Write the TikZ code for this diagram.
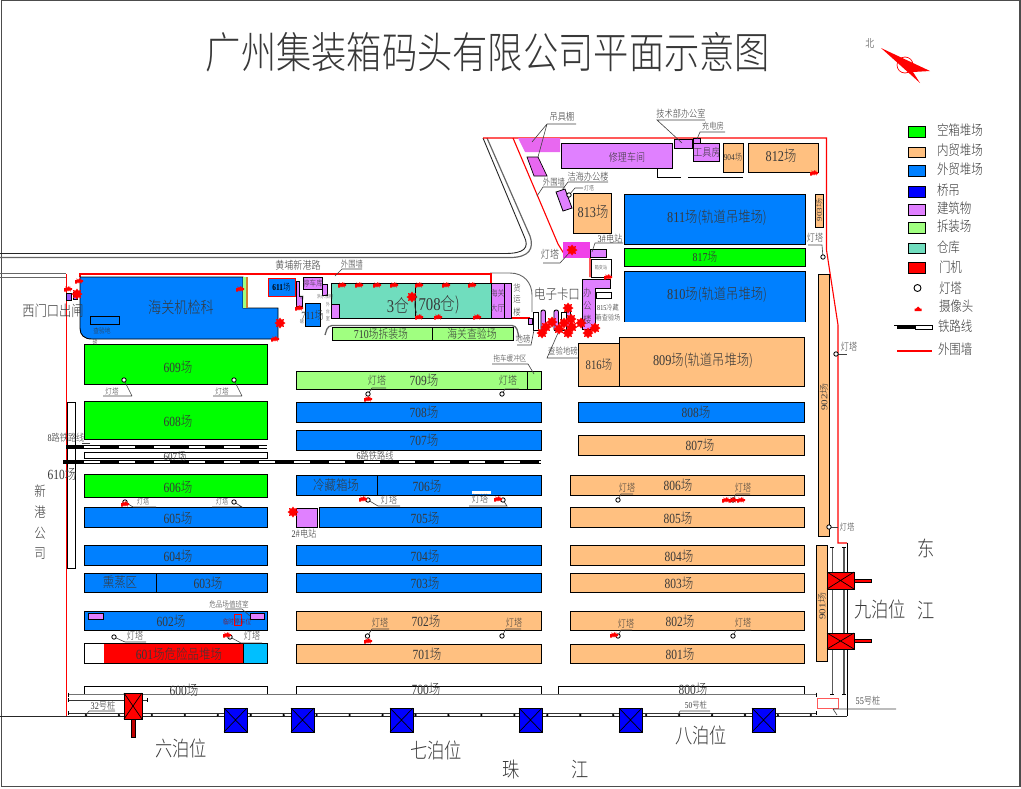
\documentclass[tikz,border=0pt]{standalone}
\usepackage{graphicx}
\usepackage{fontspec}
\setmainfont{Noto Sans CJK SC Light}
\newfontfamily\serifnum{Liberation Serif}
\usetikzlibrary{shapes.geometric}
\definecolor{cOrange}{HTML}{FFC080}
\definecolor{cBlue}{HTML}{0080FF}
\definecolor{cGreen}{HTML}{00FF00}
\definecolor{cPurple}{HTML}{E080FF}
\definecolor{cLight}{HTML}{A0FF80}
\definecolor{cTeal}{HTML}{70DDBE}
\definecolor{cMag}{HTML}{E868F0}
\definecolor{cSky}{HTML}{00BFFF}
\definecolor{cPink}{HTML}{F040E8}
\tikzset{
  yard/.style={draw=black,line width=.9pt,inner sep=0,outer sep=0},
  lbl/.style={inner sep=0,outer sep=0,text=black!78},
  thinl/.style={line width=.6pt,draw=black!75},
  wall/.style={draw=red,line width=1.1pt},
  road/.style={draw=black!85,line width=.9pt},
  rail/.style={draw=black!80,line width=.9pt}
}
\newcommand\N[1]{{\serifnum #1}}
\newcommand\Yd[6]{\pgfmathsetmacro\yw{#4-#2}\pgfmathsetmacro\yh{#5-#3}\pgfmathsetmacro\ycx{(#2+#4)/2}\pgfmathsetmacro\ycy{(#3+#5)/2}\node[yard,fill=#6,minimum width=\yw pt,minimum height=\yh pt] (#1) at (\ycx,\ycy) {};}
\newcommand\T[5]{\node[lbl] (#1) at (#2,#3) {\fontsize{#4}{#4}\selectfont\scalebox{.82}[1]{#5}};}
\newcommand\TL[5]{\node[lbl,anchor=west] (#1) at (#2,#3) {\fontsize{#4}{#4}\selectfont\scalebox{.82}[1]{#5}};}
\newcommand\TR[5]{\node[lbl,rotate=90] (#1) at (#2,#3) {\fontsize{#4}{#4}\selectfont\scalebox{1}[.82]{#5}};}
\newcommand\Xb[6]{\Yd{#1}{#2}{#3}{#4}{#5}{#6}\draw[line width=.7pt] (#1.north west)--(#1.south east) (#1.north east)--(#1.south west);}
\newcommand\Cam[2]{\fill[red,shift={(#1,#2)}] (-4,2.5)--(-4,-1)--(-2.5,-1)--(-2.5,-3)--(-1,-1)--(.5,-3)--(1,-1)--(2,-3)--(2.5,-1)--(4,-1)--(4,1)--(2.5,1)--(2.5,2.5)--(1,1)--(0,2.5)--(-1,1)--(-2,2.5)--cycle;}
\newcommand\CamB[2]{\fill[red,shift={(#1,#2)}] (0,-5.5)--(1.4,-3.4)--(3.9,-3.9)--(3.4,-1.4)--(5.5,0)--(3.4,1.4)--(3.9,3.9)--(1.4,3.4)--(0,5.5)--(-1.4,3.4)--(-3.9,3.9)--(-3.4,1.4)--(-5.5,0)--(-3.4,-1.4)--(-3.9,-3.9)--(-1.4,-3.4)--cycle;}
\newcommand\Lamp[2]{\draw[line width=.8pt,fill=white] (#1,#2) circle (2.2pt);}
\newcommand\Rly[3]{\draw[line width=4.4pt,black] (#1,#3)--(#2,#3);\draw[line width=2.4pt,white,dash pattern=on 16pt off 19pt] (84,#3)--(#2,#3);}
\begin{document}
\begin{tikzpicture}[x=1pt,y=-1pt]
\useasboundingbox (0,0) rectangle (1021,788);
\draw[black!70,line width=1.2pt] (1.2,.5) rectangle (1020,786.5);
% title
\T{title}{488}{52}{43}{广州集装箱码头有限公司平面示意图}
% north arrow
\T{north}{870}{43}{11}{北}
\draw[red,line width=.7pt] (905,65) circle (8pt);
\fill[red] (881,48)--(930,71)--(913,72)--(920,83)--cycle;
% roads
\draw[road] (0,253.5)--(505,253.5) .. controls (524,253.5) and (530,248) .. (524,236)--(483,138);
\draw[road,draw=black!60,line width=1.2pt] (0,257.5)--(510,257.5) .. controls (530,257.5) and (534,248) .. (530,236)--(487,138);
\draw[road,draw=black!60] (0,273)--(66,273) (0,277)--(66,277);
\draw[road,draw=black!60] (490,273)--(510,273) .. controls (524,273) and (532,283) .. (532,295)--(532,312);
\draw[road,draw=black!60,line width=1.3pt,rounded corners=4pt] (325,335)--(328,325.5)--(516,325.5)--(519,337);
% walls
\draw[wall] (66.5,274)--(66.5,716);
\draw[wall] (80,277)--(80,274)--(491,274)--(491,283);
\draw[wall] (505,318)--(530,318);
\draw[wall] (483,138)--(826.5,138)--(826.5,250)--(838,325)--(838,543)--(847,543);
\draw[black,line width=1pt] (847,543)--(847,716);
\draw[wall] (513,138)--(558,244)--(566,257)--(590,257)--(590,277);
% left column
\Yd{y610}{67}{402}{75}{568}{white}
\draw[yard,fill=cBlue] (80,277)--(243,277)--(243,308)--(278,308)--(278,339)--(92,339) .. controls (84,339) and (80,335) .. (80,328)--cycle;
\fill[cLight] (243,277) rectangle (246,308);
\fill[brown!70!orange] (246,277) rectangle (248,308);
\Yd{ckbox}{90}{316}{119}{324}{cBlue}
\Yd{y609}{84}{344}{267}{384}{cGreen}
\Yd{y608}{84}{401}{267}{439}{cGreen}
\Yd{y607}{84}{452}{267}{458}{white}
\Yd{y606}{84}{474}{267}{497}{cGreen}
\Yd{y605}{84}{507}{267}{527}{cBlue}
\Yd{y604}{84}{545}{267}{565}{cBlue}
\Yd{y603}{84}{573}{267}{592}{cBlue}
\draw[line width=.9pt] (156,573)--(156,592);
\Yd{y602}{84}{611}{267}{630}{cBlue}
\Yd{p602a}{88}{613}{103}{619}{cPurple}
\Yd{p602b}{250}{613}{264}{619}{cPurple}
\draw[red,line width=.8pt] (234,614) rectangle (241,625);
\Yd{y601}{84}{643}{267}{663}{white}
\fill[red] (104,643.5) rectangle (243,662.5);
\fill[cSky] (243,643.5) rectangle (266.5,662.5);
\draw[line width=.9pt] (243,643)--(243,663);
\Yd{y600}{84}{686}{267}{694}{white}
% middle column
\Yd{y709}{296}{371}{541}{389}{cLight}
\draw[line width=.9pt] (527,371)--(527,389);
\Yd{y708}{296}{402}{541}{422}{cBlue}
\Yd{y707}{296}{430}{541}{450}{cBlue}
\Yd{y706}{296}{475}{541}{495}{cBlue}
\draw[line width=.9pt] (377,475)--(377,495);
\fill[white] (472,491) rectangle (491,493.5);
\Yd{p2}{296}{508}{317}{527}{cPurple}
\Yd{y705}{319}{507}{541}{527}{cBlue}
\Yd{y704}{296}{545}{541}{565}{cBlue}
\Yd{y703}{296}{573}{541}{592}{cBlue}
\Yd{y702}{296}{611}{541}{630}{cOrange}
\Yd{y701}{296}{644}{541}{663}{cOrange}
\Yd{y700}{296}{686}{541}{694}{white}
% right column
\Yd{y808}{578}{402}{804}{422}{cBlue}
\Yd{y807}{578}{435}{804}{455}{cOrange}
\Yd{y806}{570}{475}{804}{495}{cOrange}
\Yd{y805}{570}{507}{804}{527}{cOrange}
\Yd{y804}{570}{545}{804}{565}{cOrange}
\Yd{y803}{570}{573}{804}{592}{cOrange}
\Yd{y802}{570}{611}{804}{630}{cOrange}
\Yd{y801}{570}{644}{804}{663}{cOrange}
\Yd{y800}{558}{686}{804}{694}{white}
% north block
\Yd{y811}{624}{194}{805}{244}{cBlue}
\Yd{y817}{624}{248}{805}{266}{cGreen}
\fill[cBlue] (624,271) rectangle (805,322);
\draw[line width=.9pt] (805,322)--(805,271)--(624,271)--(624,322);
\Yd{y809}{619}{337}{804}{386}{cOrange}
\Yd{y816}{578}{343}{619}{386}{cOrange}
\Yd{y813}{573}{193}{611}{233}{cOrange}
\Yd{y812}{748}{143}{818}{172}{cOrange}
\Yd{y904}{723}{143}{743}{172}{cOrange}
\Yd{y903}{815.5}{194}{823}{227}{cOrange}
\Yd{y902}{818}{274}{829}{536}{cOrange}
\Yd{y901}{816}{545}{827}{661}{cOrange}
% buildings north
\fill[cMag] (518,138)--(560,138)--(560,152)--(525,152)--cycle;
\draw[fill=cMag,line width=.7pt] (527,157)--(538,157)--(547,176)--(534,176)--cycle;
\Yd{repair}{561}{143}{672}{168}{cPurple}
\Yd{tech}{674}{139}{692}{148}{cPurple}
\Yd{charge}{693}{138}{700}{143}{cPurple}
\Yd{tools}{693}{143}{719}{161}{cPurple}
\draw[line width=.8pt] (657,168)--(657,177)--(681,177) (688,177)--(743,177);
\draw[fill=cPurple,line width=.8pt] (556,192)--(565,189)--(572,208)--(563,211)--cycle;
\fill[cPink] (563,242) rectangle (590,258);
\Yd{e3}{590}{249}{606}{257}{cPurple}
\Yd{sub}{591}{259}{611}{277}{white}
\draw[fill=cPurple,line width=.8pt] (582,279)--(610,279)--(610,288)--(595,288)--(595,329)--(582,329)--cycle;
\Yd{wbox}{596}{292}{611}{298}{white}
% warehouse block
\Yd{wh}{331}{283}{491}{318}{cTeal}
\draw[line width=.9pt] (415,283)--(415,318);
\Yd{p331}{331}{304}{339}{318}{cPurple}
\Yd{hall}{491}{283}{511.5}{318}{cPurple}
\draw[line width=.9pt] (504,283)--(504,318);
\Yd{y710}{332}{327}{513}{340}{cLight}
\draw[line width=.9pt] (432,327)--(432,340);
\node[draw=red,fill=cBlue,line width=1pt,inner sep=0,minimum width=27pt,minimum height=18pt] (y611) at (281.5,287) {};
\draw[fill=cPurple,line width=.7pt] (296,281)--(299,281)--(299,296)--(302,296)--(302,306)--(296,306)--cycle;
\Yd{park}{303}{277}{322}{289}{cPurple}
\Yd{p322}{322}{284}{327}{295}{cPurple}
\Yd{y711}{305}{303}{320}{326}{cBlue}
% gate
\Yd{g0}{528}{318}{532}{324}{cPurple}
\Yd{g1}{533}{312}{538}{330}{white}
\foreach \i/\x in {a/541,b/554,c/566}{\node[yard,fill=cPurple,rounded corners=2pt,minimum width=4.5pt,minimum height=21pt] (gate\i) at (\x+2.2,320.5) {};}
\Yd{g2}{561}{312}{566}{330}{white}
% west gate
\Yd{wg1}{66}{293}{71}{300}{cPurple!70!blue}
\Yd{wg2}{73}{292}{77}{299}{cPurple!70!blue}
% quay rails
\draw[rail,draw=black!55,line width=1.2pt] (68,694.7)--(816,694.7);
\draw[rail] (68,700)--(147,700);
\draw[rail] (68,713)--(816,713);
\foreach \x/\a/\b in {68/692.5/697,68/698/702,68/711/715,816/692.5/697,816/711/715,147/698/702}{\draw[line width=.7pt] (\x,\a)--(\x,\b);}
\draw[black!85,line width=1.6pt] (0,716.5)--(847,716.5);
\foreach \n in {0,...,22}{\pgfmathsetmacro\px{86+32.95*\n}\fill[black] (\px,715) circle (1.3pt);}
\draw[rail,draw=black!65] (832,547)--(832,694);
\draw[rail,draw=black!65,line width=1.3pt] (844,547)--(844,694);
\foreach \x in {832,844}{\draw[line width=.9pt] (\x-2,547)--(\x+2,547) (\x-2,694)--(\x+2,694);}
% portal cranes
\Xb{pc1}{124}{693}{142}{719}{red}
\Yd{st1}{131}{719}{135}{737}{red!75!black}
\Yd{st2}{854}{579}{871}{582}{red}
\Xb{pc2}{827}{572}{854}{589}{red}
\Yd{st3}{854}{639}{871}{642.5}{red}
\Xb{pc3}{827}{633}{854}{649}{red}
% bridge cranes
\Xb{bc1}{224}{708}{247}{732}{blue}
\Xb{bc2}{291}{708}{314}{732}{blue}
\Xb{bc3}{390}{708}{413}{732}{blue}
\Xb{bc4}{519}{708}{542}{732}{blue}
\Xb{bc5}{619}{708}{642}{732}{blue}
\Xb{bc6}{752}{708}{775}{732}{blue}
\draw[red!65,line width=1pt] (817,698) rectangle (838,708);
% railways
\Rly{66}{267}{447}
\Rly{63}{541}{462}
% leaders
\draw[thinl] (132,396)--(124,380) (103,396)--(132,396);
\draw[thinl] (242,396)--(234,380) (213,396)--(242,396);
\draw[thinl] (133,507)--(125,502) (133,507)--(156,507);
\draw[thinl] (212,507)--(242,507)--(234,502);
\draw[thinl] (368,394)--(372,388)--(386,388);
\draw[thinl] (502,394)--(505,389)--(519,389);
\draw[thinl] (368,500)--(378,506)--(400,506);
\draw[thinl] (503,500)--(507,506)--(469,506);
\draw[thinl] (618,500)--(621,494)--(633,494);
\draw[thinl] (733,500)--(736,494)--(750,494);
\draw[thinl] (367.5,636)--(372,629)--(389,629);
\draw[thinl] (502,636)--(506,629)--(521,629);
\draw[thinl] (618,636)--(621,630)--(632,630);
\draw[thinl] (733,636)--(736,630)--(751,630);
\draw[thinl] (114,637)--(125,642)--(146,642);
\draw[thinl] (230,637)--(241,643)--(262,643);
\draw[thinl] (225,609)--(242,609)--(250,616);
\draw[thinl] (82,443)--(90,443);
\draw[thinl] (547,124)--(576,124) (547,124)--(532,142) (547,124)--(538,157);
\draw[thinl] (705,120)--(657,120)--(682,143);
\draw[thinl] (725,132)--(700,132)--(697,139);
\draw[thinl] (568,182)--(608,182) (568,182)--(562,190);
\draw[thinl] (565,187)--(543,187)--(537,196);
\draw[thinl] (569,195)--(575,188)--(583,188);
\draw[thinl] (623,243)--(595,243)--(592,252);
\draw[thinl] (808,245)--(822,245)--(823,257);
\draw[thinl] (543,263)--(560,263)--(570,252);
\draw[thinl] (362,269)--(342,269)--(335,276);
\draw[thinl] (492,364)--(528,364)--(534,374);
\draw[thinl] (517,345)--(531,345)--(534,330);
\draw[thinl] (578,358)--(547,358)--(558,333);
\draw[thinl] (89,711)--(115,711) (89,711)--(86,715);
\draw[thinl] (680,711)--(710,711) (680,711)--(678,715);
\draw[thinl] (833,709)--(896,709) (833,709)--(837,715);
\draw[thinl] (829,527)--(838,527) (836,354)--(847,354);
% lamps
\foreach \x/\y in {124/380,234/380,125/502,234/502,368/394,502/394,368/500,503/500,618/500,733/500,367.5/636,502/636,618/636,733/636,114/637,230/637,569/195,823/257,836/354,829/527}{\Lamp{\x}{\y}}
% cameras
\foreach \x/\y in {342/285,359/285,377/285,394/285,419/285,446/285,472/285,419/317,438/317,477/317,368/399,275/339,299/308,68/289,240/289,79/281,125/504,363/499,498/499,614/635,227/635,368/641,726/500,733/500,741/500,814/173,608/277}{\Cam{\x}{\y}}
\foreach \x/\y in {412/297,280/323,77/294,293/512,572/250,542/333,546/327,552/322,559/329,564/323,568/333,572/327,571/319,568/308,581/323,588/333,595/328}{\CamB{\x}{\y}}
% yard labels
\T{t609}{178}{367}{14}{\N{609}场}
\T{t608}{178}{421}{14}{\N{608}场}
\T{t607}{175}{456}{11}{\N{607}场}
\T{t606}{178}{487}{14}{\N{606}场}
\T{t605}{178}{518}{14}{\N{605}场}
\T{t604}{178}{556}{14}{\N{604}场}
\T{t603}{208}{583}{14}{\N{603}场}
\T{txz}{120}{582}{14}{熏蒸区}
\T{t602}{171}{621}{14}{\N{602}场}
\T{t601}{179}{654}{14}{\N{601}场危险品堆场}
\T{t600}{184}{690}{14}{\N{600}场}
\T{tcust}{181}{307}{16}{海关机检科}
\T{tck}{102}{331}{7}{查验地}
\T{tckb}{95}{342}{6}{磅}
\T{t610}{62}{474}{14}{\N{610}场}
\T{txg1}{40}{491}{14}{新}
\T{txg2}{40}{512}{14}{港}
\T{txg3}{40}{533}{14}{公}
\T{txg4}{40}{554}{14}{司}
\T{twg}{53}{311}{15}{西门口出闸}
\T{t8r}{66}{438}{10}{\N{8}路铁路线}
\T{t6r}{375}{456}{10}{\N{6}路铁路线}
\T{t709}{424}{380}{14}{\N{709}场}
\T{t708}{424}{412}{14}{\N{708}场}
\T{t707}{424}{440}{14}{\N{707}场}
\T{tlc}{336}{485}{14}{冷藏箱场}
\T{t706}{427}{486}{14}{\N{706}场}
\T{t705}{425}{518}{14}{\N{705}场}
\T{t704}{425}{556}{14}{\N{704}场}
\T{t703}{425}{583}{14}{\N{703}场}
\T{t702}{426}{621}{14}{\N{702}场}
\T{t701}{427}{654}{14}{\N{701}场}
\T{t700}{426}{689}{14}{\N{700}场}
\T{t2e}{304}{534}{10}{\N{2}\#电站}
\T{t808}{696}{412}{14}{\N{808}场}
\T{t807}{700}{445}{14}{\N{807}场}
\T{t806}{678}{485}{14}{\N{806}场}
\T{t805}{678}{518}{14}{\N{805}场}
\T{t804}{679}{556}{14}{\N{804}场}
\T{t803}{679}{583}{14}{\N{803}场}
\T{t802}{680}{621}{14}{\N{802}场}
\T{t801}{680}{654}{14}{\N{801}场}
\T{t800}{693}{689}{14}{\N{800}场}
\T{t811}{717}{218}{15}{\N{811}场(轨道吊堆场)}
\T{t817}{705}{257}{12}{\N{817}场}
\T{t810}{717}{295}{15}{\N{810}场(轨道吊堆场)}
\T{t809}{703}{361}{15}{\N{809}场(轨道吊堆场)}
\T{t816}{599}{365}{13}{\N{816}场}
\T{t813}{593}{212}{15}{\N{813}场}
\T{t812}{781}{156}{15}{\N{812}场}
\T{t904}{733}{157}{9}{\N{904}场}
\TR{t903}{819}{210}{9}{\N{903}场}
\TR{t902}{824}{397}{11}{\N{902}场}
\TR{t901}{822}{606}{11}{\N{901}场}
\T{trep}{627}{157}{11}{修理车间}
\T{ttool}{707}{152}{11}{工具房}
\T{tgj}{562}{117}{10}{吊具棚}
\T{ttech}{681}{114}{10}{技术部办公室}
\T{tchg}{713}{126}{9}{充电房}
\T{tjh}{588}{177}{10}{洁海办公楼}
\T{twq1}{554}{182}{9}{外围墙}
\T{tdt0}{589}{188}{6}{灯塔}
\T{t3e}{610}{239}{10}{\N{3}\#电站}
\T{tsub}{601}{268}{5}{箱变站}
\T{tdk}{557}{294}{14}{电子卡口}
\T{tbg1}{587.5}{293}{10}{办}
\T{tbg2}{587.5}{306}{10}{公}
\T{tbg3}{587.5}{320}{10}{楼}
\T{t815a}{608}{308}{7.5}{\N{815}冷藏}
\T{t815b}{608}{318}{7.5}{箱查验场}
\T{tdb}{523}{339}{9}{地磅}
\T{tcydb}{563}{351}{9}{查验地磅}
\T{thy1}{517}{288}{9}{货}
\T{thy2}{517}{299}{9}{运}
\T{thy3}{517}{312}{9}{楼}
\T{ths1}{497.5}{293}{8.5}{海关}
\T{ths2}{497.5}{308}{8.5}{大厅}
\T{twh3}{398}{305}{18}{\N{3}仓}
\T{twh7}{437}{305}{18}{(\N{708}仓)}
\T{t710}{381}{334}{12}{\N{710}场拆装场}
\T{thg}{472}{334}{12}{海关查验场}
\T{thp}{298}{265}{11}{黄埔新港路}
\T{twq2}{352}{264}{9}{外围墙}
\T{t611}{281.5}{287}{9}{\textcolor{black}{\N{\bfseries 611}场}}
\T{tpark}{313}{283}{8}{停车库}
\T{t711}{312.5}{315}{11}{\N{711}场}
\T{thb}{325}{297}{5}{洪水泵棚}
\T{tw1}{328}{305}{5}{外}
\T{tw2}{328}{312}{5}{台}
\T{tw3}{328}{319}{5}{室}
\T{td1}{302}{298}{5}{地}
\T{td2}{302}{322}{5}{磅}
\T{ttc}{510}{358}{8}{拖车缓冲区}
\T{tdt1}{377}{380}{11}{灯塔}
\T{tdt2}{508}{380}{11}{灯塔}
\T{tdt3}{112}{391}{8}{灯塔}
\T{tdt4}{222}{391}{8}{灯塔}
\T{tdt5}{143}{502}{7.5}{灯塔}
\T{tdt6}{222}{502}{7.5}{灯塔}
\T{tdt7}{389}{500}{10}{灯塔}
\T{tdt8}{480}{499}{10}{灯塔}
\T{tdt9}{627}{488}{10}{灯塔}
\T{tdt10}{743}{488}{10}{灯塔}
\T{tdt11}{380}{623}{10}{灯塔}
\T{tdt12}{514}{623}{10}{灯塔}
\T{tdt13}{626}{624}{10}{灯塔}
\T{tdt14}{743}{623}{10}{灯塔}
\T{tdt15}{135}{636}{10}{灯塔}
\T{tdt16}{252}{636}{10}{灯塔}
\T{tdt17}{815}{238}{10}{灯塔}
\T{tdt18}{550}{254}{11}{灯塔}
\T{tdt19}{849}{347}{10}{灯塔}
\T{tdt20}{847}{527}{9}{灯塔}
\T{tdu}{229}{604}{8}{危品场值班室}
\node[lbl,text=red!60!black] (tlin) at (237,622) {\fontsize{7}{7}\selectfont\scalebox{.82}[1]{临时停车位}};
\T{t32}{103}{706}{10}{\N{32}号桩}
\T{t50}{696}{705}{9}{\N{50}号桩}
\T{t55}{868}{701}{10}{\N{55}号桩}
\T{b6}{181}{748}{21}{六泊位}
\T{b7}{436}{750}{21}{七泊位}
\T{b8}{701}{735}{21}{八泊位}
\T{b9}{880}{609}{21}{九泊位}
\T{tz1}{511}{769}{21}{珠}
\T{tz2}{580}{769}{21}{江}
\T{td}{926}{548}{21}{东}
\T{tj}{926}{610}{21}{江}
% legend
\Yd{l1}{908}{126}{925}{137}{cGreen}
\Yd{l2}{908}{147}{925}{157}{cOrange}
\Yd{l3}{908}{165}{925}{176}{cBlue}
\Yd{l4}{908}{186}{925}{197}{blue}
\Yd{l5}{908}{204}{925}{215}{cPurple}
\Yd{l6}{908}{222}{925}{233}{cLight}
\Yd{l7}{908}{243}{925}{253}{cTeal}
\Yd{l8}{908}{262}{925}{273}{red}
\draw[line width=.9pt] (917.5,288) circle (3.5pt);
\fill[red,shift={(918,309)}] (-3.5,2)--(-3.5,-.5)--(-2,-.5)--(0,-2.5)--(2,-.5)--(3.5,-.5)--(3.5,2)--cycle;
\draw[line width=.5pt,fill=white] (915,325) rectangle (932,329);
\fill[black] (897,325) rectangle (915,329);
\draw[line width=.6pt] (894,325)--(897,325);
\draw[draw=red,line width=1.1pt] (897,351)--(932,351);
\TL{ll1}{937}{130}{14}{空箱堆场}
\TL{ll2}{937}{150}{14}{内贸堆场}
\TL{ll3}{937}{169}{14}{外贸堆场}
\TL{ll4}{937}{190}{14}{桥吊}
\TL{ll5}{937}{208}{14}{建筑物}
\TL{ll6}{937}{226}{14}{拆装场}
\TL{ll7}{937}{247}{14}{仓库}
\TL{ll8}{939}{267}{14}{门机}
\TL{ll9}{939}{288}{14}{灯塔}
\TL{ll10}{939}{306}{14}{摄像头}
\TL{ll11}{938}{326}{14}{铁路线}
\TL{ll12}{938}{349}{14}{外围墙}
\end{tikzpicture}
\end{document}
